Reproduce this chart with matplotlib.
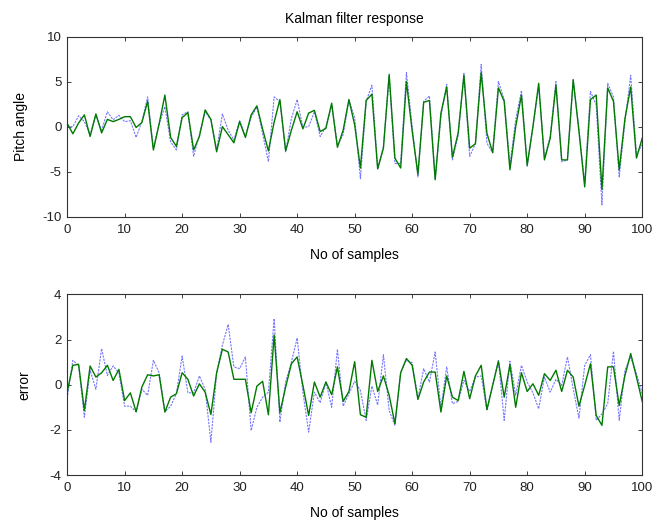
import numpy as np
import matplotlib
matplotlib.use('Agg')
import matplotlib.pyplot as plt

plt.rcParams['font.family'] = ['Liberation Sans', 'DejaVu Sans']
plt.rcParams['axes.unicode_minus'] = False

samples = np.arange(101)

# pitch angle: measured (blue dashed) and kalman estimate (green)
pitch_measured = [
    0.0, 0.0, 1.2, 0.55, -0.9, 1.3, -0.4, 1.65, 0.75, 1.25,
    0.55, 0.65, -1.2, 0.55, 3.3, -2.4, 0.3, 2.2, -1.7, -2.6,
    1.3, 1.65, -3.3, -0.9, 1.65, 0.75, -2.6, 1.4, -0.4, -1.5,
    0.65, -1.1, 1.0, 2.2, -0.8, -3.9, 3.3, 2.8, -2.8, 0.9,
    3.0, -0.1, 0.0, 1.65, -1.1, 0.0, 2.4, -2.1, -0.9, 2.95,
    1.0, -5.8, 2.8, 4.6, -4.7, -2.2, 5.6, -4.1, -4.1, 6.0,
    0.0, -5.6, 2.8, 3.4, -5.8, 1.1, 4.7, -3.7, -1.0, 5.9,
    -3.3, -1.9, 6.9, -1.85, -2.9, 5.0, 3.0, -4.3, 0.75, 4.0,
    -4.4, 0.0, 4.4, -3.5, -1.1, 5.0, -3.9, -3.7, 5.2, -0.3,
    -6.3, 3.9, 2.4, -8.7, 4.8, 3.3, -5.6, 0.55, 5.7, -3.1,
    -2.0]
pitch_filtered = [
    0.37, -0.8, 0.4, 1.3, -1.1, 1.4, -0.7, 0.8, 0.55, 0.8,
    1.1, 1.1, -0.1, 0.45, 2.8, -2.6, 0.3, 3.5, -1.2, -2.2,
    1.0, 1.55, -2.6, -1.1, 1.85, 0.8, -2.8, 0.0, -0.9, -1.8,
    0.55, -1.2, 1.3, 2.3, -0.3, -2.7, 0.5, 3.0, -2.7, -0.4,
    1.65, -0.25, 1.5, 1.8, -0.55, -0.2, 2.6, -2.3, -0.4, 3.0,
    0.2, -4.6, 2.9, 3.6, -4.7, -2.4, 5.8, -3.5, -4.6, 5.0,
    -0.5, -5.3, 2.7, 2.9, -5.9, 1.5, 4.4, -3.4, -0.7, 5.7,
    -2.4, -1.9, 6.0, -0.75, -2.9, 4.3, 2.8, -4.8, 0.0, 3.5,
    -4.3, 0.0, 4.8, -3.7, -1.3, 4.6, -3.7, -3.7, 5.2, -0.5,
    -6.7, 3.0, 3.5, -7.0, 4.3, 2.8, -4.8, 0.9, 4.4, -3.5,
    -1.3]

# error: measured (blue dashed) and estimate (green)
error_measured = [
    -0.6, 1.08, 0.86, -1.44, 0.64, -0.2, 1.6, 0.41, 0.83, 0.53,
    -0.95, -0.95, -1.2, -0.2, -0.47, 1.08, 0.53, -1.2, -0.95, -0.4,
    1.27, -0.36, -0.36, 0.39, -0.2, -2.55, 0.53, 1.75, 2.67, 0.79,
    0.71, 1.23, -2.03, -1.0, -0.55, -0.33, 2.93, -1.66, 0.12, 1.0,
    2.07, -0.33, -2.1, -0.33, -0.8, 0.12, -1.0, 1.57, -0.95, -0.4,
    0.15, -0.25, -1.58, -0.06, -0.9, 1.33, -1.14, -1.8, 0.56, 1.08,
    0.98, -0.62, 0.71, 0.12, 1.45, -1.04, 0.79, -0.84, -0.74, 0.19,
    -0.3, 0.34, 0.39, -1.14, 0.0, 1.08, -1.58, 1.04, -0.47, 0.86,
    0.12, -0.36, -1.07, 0.34, -0.33, 0.24, -0.03, 1.23, -0.18, -1.48,
    0.86, 1.33, -1.58, -1.29, -0.84, 1.48, -1.58, 0.64, 1.23, 0.49,
    -0.4]
error_filtered = [
    -0.33, 0.86, 0.9, -1.14, 0.83, 0.34, 0.53, 0.86, 0.19, 0.68,
    -0.7, -0.36, -1.2, -0.1, 0.44, 0.39, 0.44, -1.21, -0.55, -0.4,
    0.53, 0.24, -0.5, 0.04, -0.33, -1.32, 0.53, 1.57, 1.45, 0.24,
    0.24, 0.24, -1.24, -0.06, 0.15, -1.33, 2.2, -1.24, -0.1, 0.93,
    1.23, -0.03, -1.36, 0.12, -0.55, 0.12, -0.44, 0.79, -0.74, -0.3,
    1.02, -1.33, -1.44, 1.08, -0.3, 0.39, -0.47, -1.73, 0.53, 1.16,
    0.86, -0.65, 0.12, 0.56, 0.56, -1.21, 0.39, -0.55, -0.7, 0.59,
    -0.62, 0.39, 0.86, -1.1, -0.03, 1.04, -0.55, 0.89, -1.0, 0.53,
    -0.3, 0.04, -0.47, 0.49, 0.19, 0.64, -0.3, 0.64, 0.34, -0.95,
    -0.03, 0.93, -1.36, -1.8, 0.79, 0.79, -0.92, 0.41, 1.38, 0.34,
    -0.74]

fig = plt.figure(figsize=(6.58, 5.22), dpi=100)
ax1 = fig.add_axes([0.102, 0.585, 0.874, 0.345])
ax2 = fig.add_axes([0.102, 0.09, 0.874, 0.346])


def style_axes(ax, ylim, yticks):
    ax.set_xlim(0, 100)
    ax.set_ylim(*ylim)
    ax.set_xticks(range(0, 101, 10))
    ax.set_yticks(yticks)
    ax.tick_params(direction='in', top=True, right=True, length=3,
                   width=0.6, labelsize=9.5, colors='#222222')
    ax.tick_params(axis='x', pad=5)
    ax.tick_params(axis='y', pad=4)
    for s in ax.spines.values():
        s.set_linewidth(0.8)
        s.set_color('#333333')


ax1.plot(samples, pitch_measured, color='#7777ff', lw=0.8, ls='--',
         dashes=(2, 1))
ax1.plot(samples, pitch_filtered, color='#007a00', lw=1.0)
style_axes(ax1, (-10, 10), [-10, -5, 0, 5, 10])
ax1.set_title('Kalman filter response', fontsize=10, pad=10)
ax1.set_xlabel('No of samples', fontsize=10, labelpad=9)
ax1.set_ylabel('Pitch angle', fontsize=10, labelpad=10)

ax2.plot(samples, error_measured, color='#7777ff', lw=0.8, ls='--',
         dashes=(2, 1))
ax2.plot(samples, error_filtered, color='#007a00', lw=1.0)
style_axes(ax2, (-4, 4), [-4, -2, 0, 2, 4])
ax2.set_xlabel('No of samples', fontsize=10, labelpad=9)
ax2.set_ylabel('error', fontsize=10, labelpad=13)

plt.savefig('out.png', dpi=100)
